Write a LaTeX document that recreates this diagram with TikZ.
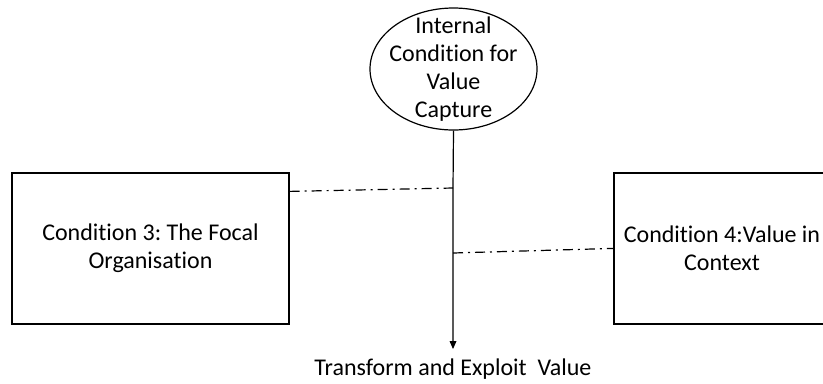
\documentclass[tikz,border=0pt]{standalone}
\usepackage{fontspec}
\setmainfont{Carlito}[Ligatures=NoCommon,Contextuals=NoAlternate]
\usetikzlibrary{shapes,arrows.meta,positioning}
\frenchspacing

\tikzset{
  condbox/.style={draw, line width=0.9pt, inner sep=0pt, align=center,
    font=\fontsize{18}{21}\selectfont},
  dashdot/.style={line width=0.9pt, dash pattern={on 7.5pt off 3.75pt on 1.5pt off 3.75pt}},
}

\begin{document}
\begin{tikzpicture}[x=0.75pt,y=0.75pt,yscale=-1,xscale=1]
    \useasboundingbox (0,0) rectangle (823,383);
    \clip (0,0) rectangle (823,383);

    %Shape: Ellipse
    \node [draw, ellipse, line width=0.9pt, inner sep=0pt, minimum width=125.25pt, minimum height=91.5pt] (captureshape) at (453.5,69) {};
    % Text Node
    \node [align=center, inner sep=0pt, font=\fontsize{18}{21}\selectfont] (capture) at (captureshape.center) {Internal\\Condition for\\Value\\Capture};

    %Shape: Rectangle
    \node [condbox, minimum width=207.75pt, minimum height=113.25pt] (focal) at (150.5,248.5) {Condition 3: The Focal\\Organisation};
    %Shape: Rectangle
    \node [condbox, minimum width=162pt, minimum height=113.25pt] (context) at (722,248.5) {Condition 4:Value in\\Context};

    % Text Node
    \node [inner sep=0.75pt, font=\fontsize{18}{21}\selectfont, anchor=base] (exploit) at (453,375) {Transform and Exploit\ \ Value};

    \coordinate (j1) at (453,188);
    \coordinate (j2) at (453,253);

    %Straight Lines
    \draw [line width=0.9pt, -{Triangle[length=6pt,width=5pt]}] (captureshape.south) -- (j1) -- (j2) -- ([yshift=-6pt]exploit.north);
    \draw [dashdot] ([yshift=14.25pt]focal.north east) -- (j1);
    \draw [dashdot] (j2) -- ([yshift=57pt]context.north west);
\end{tikzpicture}
\end{document}
